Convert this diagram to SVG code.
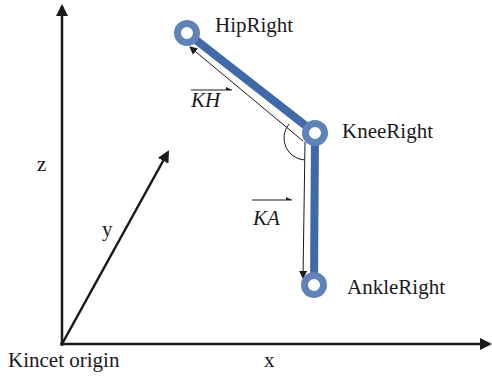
<svg xmlns="http://www.w3.org/2000/svg" width="492" height="376" viewBox="0 0 492 376">
<defs>
<style>
.t{font-family:"Liberation Serif","Times New Roman",serif;font-size:21px;fill:#1a1a1a}
.i{font-style:italic}
.ax{stroke:#1a1a1a;stroke-width:2.5;fill:none}
.thin{stroke:#1a1a1a;stroke-width:1;fill:none}
.bone{stroke:#3f69a8;stroke-width:8;stroke-linecap:butt}
.joint{fill:#fff;stroke:#5f82b8;stroke-width:7}
</style>
<marker id="ah" markerWidth="8" markerHeight="8" refX="7" refY="4" orient="auto" markerUnits="userSpaceOnUse" viewBox="0 0 8 8">
<path d="M0,0 L8,4 L0,8 z" fill="#1a1a1a"/>
</marker>
<marker id="ahsm" markerWidth="6" markerHeight="6" refX="6" refY="3" orient="auto" markerUnits="userSpaceOnUse" viewBox="0 0 6 6">
<path d="M0,0 L6,3 L0,3 z" fill="#1a1a1a"/>
</marker>
<marker id="ahs" markerWidth="12" markerHeight="12" refX="10" refY="6" orient="auto" markerUnits="userSpaceOnUse" viewBox="0 0 12 12">
<path d="M0,0 L12,6 L0,12 z" fill="#1a1a1a"/>
</marker>
</defs>
<rect width="492" height="376" fill="#fff"/>
<g id="axes">
<line class="ax" x1="62" y1="344" x2="62" y2="6" marker-end="url(#ahs)"/>
<line class="ax" x1="62" y1="344" x2="490" y2="344" marker-end="url(#ahs)"/>
<line class="ax" x1="62" y1="344" x2="168" y2="152" marker-end="url(#ahs)"/>
<circle cx="62" cy="344" r="2" fill="#1a1a1a"/>
<text class="t" x="37" y="171">z</text>
<text class="t" x="102" y="236">y</text>
<text class="t" x="264" y="367">x</text>
<text class="t" x="8" y="367">Kincet origin</text>
</g>
<g id="connectors">
<line class="bone" x1="187" y1="33" x2="315" y2="133"/>
<line class="bone" x1="315" y1="133" x2="314" y2="285"/>
<line class="thin" x1="303" y1="141" x2="190" y2="47" marker-end="url(#ah)"/>
<line class="thin" x1="305" y1="142" x2="303" y2="278" marker-end="url(#ah)"/>
<path class="thin" d="M289,124 A22,22 0 0 0 305,160"/>
<g id="label-KH">
<text class="t i" x="191" y="107">KH</text>
<line class="thin" x1="191" y1="90" x2="232" y2="90" marker-end="url(#ahsm)"/>
</g>
<g id="label-KA">
<text class="t i" x="253" y="225">KA</text>
<line class="thin" x1="252" y1="200" x2="292" y2="200" marker-end="url(#ahsm)"/>
</g>
</g>
<g id="HipRight">
<circle class="joint" cx="187" cy="33" r="9.5"/>
<text class="t" x="215" y="32">HipRight</text>
</g>
<g id="KneeRight">
<circle class="joint" cx="315" cy="133" r="9.5"/>
<text class="t" x="342" y="138">KneeRight</text>
</g>
<g id="AnkleRight">
<circle class="joint" cx="314" cy="285" r="9.5"/>
<text class="t" x="347" y="294">AnkleRight</text>
</g>
</svg>
